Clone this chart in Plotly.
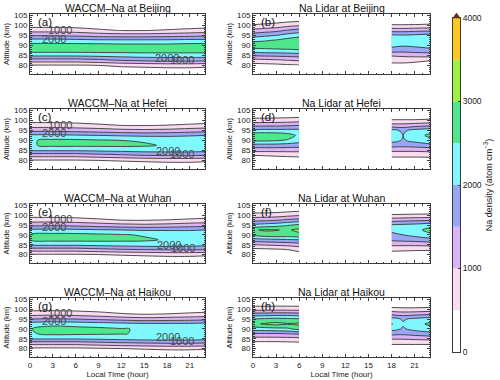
import numpy as np
import plotly.graph_objects as go

# contour levels of Na density (atom cm-3) and the fill of each band
levels = [0, 500, 1000, 1500, 2000, 2500, 3000, 3500, 4000]
band_colors = ['#ffffff', '#f9dcf0', '#dcb4f5', '#98a6f4', '#80f8ff',
               '#50e68c', '#a0f040', '#ffc81e']
over_color = '#6b2a0a'
cbar_ticks = [0, 1000, 2000, 3000, 4000]

stations = ['Beijing', 'Hefei', 'Wuhan', 'Haikou']
panel_tags = ['(a)', '(b)', '(c)', '(d)', '(e)', '(f)', '(g)', '(h)']

# ---- WACCM-Na: one altitude profile per local time ----
waccm_time = [0, 3, 6, 9, 12, 15, 18, 21, 23]
waccm_alt = [75, 77.5, 80, 82.5, 85, 87.5, 90, 92.5, 95, 97.5, 100, 102.5, 105]

waccm_beijing = [
    [0, 150, 450, 1250, 2100, 2750, 2700, 2200, 1450, 800, 300, 100, 0],
    [0, 150, 450, 1250, 2100, 2750, 2700, 2200, 1450, 800, 300, 100, 0],
    [0, 150, 450, 1250, 2100, 2750, 2700, 2150, 1400, 750, 280, 100, 0],
    [0, 180, 500, 1350, 2150, 2750, 2700, 2100, 1300, 600, 200, 80, 0],
    [0, 220, 600, 1500, 2200, 2750, 2650, 2100, 1250, 480, 150, 50, 0],
    [0, 250, 650, 1600, 2250, 2750, 2650, 2100, 1250, 480, 150, 50, 0],
    [0, 280, 700, 1650, 2250, 2750, 2650, 2100, 1300, 550, 180, 60, 0],
    [0, 280, 700, 1650, 2250, 2750, 2700, 2150, 1350, 650, 220, 80, 0],
    [0, 250, 650, 1600, 2250, 2750, 2700, 2150, 1400, 700, 250, 80, 0],
]
waccm_hefei = [
    [0, 120, 450, 1200, 2050, 2450, 2450, 2100, 1350, 750, 300, 100, 0],
    [0, 120, 450, 1200, 2050, 2600, 2600, 2100, 1350, 750, 300, 100, 0],
    [0, 120, 450, 1200, 2050, 2600, 2600, 2050, 1300, 700, 280, 100, 0],
    [0, 150, 500, 1300, 2100, 2600, 2550, 2000, 1250, 600, 220, 80, 0],
    [0, 180, 550, 1400, 2150, 2600, 2500, 1950, 1150, 500, 180, 60, 0],
    [0, 220, 600, 1500, 2200, 2560, 2450, 1900, 1100, 480, 150, 50, 0],
    [0, 250, 650, 1550, 2200, 2450, 2400, 1900, 1150, 520, 170, 60, 0],
    [0, 250, 650, 1550, 2200, 2450, 2400, 1950, 1250, 600, 200, 70, 0],
    [0, 220, 600, 1500, 2150, 2450, 2450, 2000, 1300, 650, 250, 80, 0],
]
waccm_wuhan = [
    [0, 120, 450, 1250, 2100, 2500, 2500, 2100, 1350, 750, 300, 100, 0],
    [0, 120, 450, 1250, 2100, 2650, 2650, 2150, 1400, 750, 300, 100, 0],
    [0, 120, 450, 1250, 2100, 2650, 2650, 2100, 1350, 700, 280, 100, 0],
    [0, 150, 500, 1350, 2150, 2650, 2600, 2050, 1250, 600, 220, 80, 0],
    [0, 180, 550, 1450, 2200, 2620, 2550, 2000, 1150, 500, 180, 60, 0],
    [0, 220, 600, 1500, 2250, 2580, 2450, 1950, 1100, 480, 150, 50, 0],
    [0, 250, 650, 1550, 2250, 2450, 2400, 1950, 1150, 520, 170, 60, 0],
    [0, 250, 650, 1550, 2200, 2450, 2400, 1950, 1250, 600, 200, 70, 0],
    [0, 220, 600, 1500, 2150, 2450, 2450, 2000, 1300, 650, 250, 80, 0],
]
waccm_haikou = [
    [0, 100, 400, 1150, 2050, 2450, 2480, 2250, 1500, 800, 350, 100, 0],
    [0, 100, 400, 1150, 2050, 2600, 2700, 2350, 1550, 850, 350, 100, 0],
    [0, 100, 400, 1150, 2050, 2580, 2650, 2300, 1500, 800, 330, 100, 0],
    [0, 120, 450, 1250, 2100, 2550, 2600, 2250, 1400, 700, 260, 80, 0],
    [0, 150, 500, 1350, 2150, 2520, 2530, 2150, 1300, 550, 200, 60, 0],
    [0, 180, 550, 1400, 2200, 2450, 2450, 2100, 1200, 480, 160, 50, 0],
    [0, 220, 600, 1450, 2200, 2450, 2450, 2100, 1250, 520, 170, 60, 0],
    [0, 220, 600, 1450, 2200, 2450, 2450, 2100, 1300, 600, 200, 70, 0],
    [0, 200, 550, 1400, 2150, 2450, 2450, 2150, 1350, 650, 250, 80, 0],
]

# ---- Na lidar: two night-time blocks ----
lidar_alt = [80, 82.5, 85, 87.5, 90, 92.5, 95, 97.5, 100, 102.5]
night1_time = [0, 1.5, 3, 4.5, 6]
night2_time = [18, 19.5, 21, 23]

lidar_beijing_1 = [
    [300, 800, 1550, 2300, 2800, 2380, 1800, 1150, 550, 200],
    [320, 850, 1600, 2330, 2800, 2450, 1900, 1250, 620, 230],
    [350, 900, 1620, 2370, 2820, 2550, 2000, 1350, 700, 270],
    [400, 980, 1650, 2400, 2840, 2700, 2200, 1550, 850, 330],
    [450, 1050, 1700, 2450, 2850, 2800, 2350, 1700, 950, 380],
]
lidar_beijing_2 = [
    [350, 650, 1050, 1750, 2150, 2300, 2100, 1300, 550, 200],
    [330, 680, 1100, 1700, 2050, 2200, 2050, 1300, 550, 200],
    [300, 620, 1150, 1750, 2100, 2250, 2100, 1350, 560, 200],
    [200, 520, 1200, 1800, 2250, 2350, 2200, 1400, 600, 200],
]
lidar_hefei_1 = [
    [200, 500, 1150, 1800, 2600, 2900, 2100, 1400, 700, 250],
    [200, 520, 1150, 1800, 2600, 2900, 2150, 1400, 700, 250],
    [220, 550, 1150, 1800, 2550, 2850, 2150, 1400, 720, 260],
    [250, 580, 1150, 1750, 2450, 2700, 2150, 1450, 750, 280],
    [280, 600, 1150, 1700, 2250, 2400, 2150, 1500, 800, 300],
]
lidar_hefei_2 = [
    [300, 600, 1100, 1700, 2200, 2300, 2150, 1200, 550, 200],
    [300, 600, 1100, 1650, 1950, 2000, 1900, 1200, 550, 200],
    [300, 600, 1100, 1700, 2150, 2300, 2150, 1300, 550, 200],
    [300, 620, 1150, 1800, 2400, 2600, 2300, 1400, 600, 200],
]
lidar_wuhan_1 = [
    [100, 350, 1000, 1800, 2600, 2950, 2100, 1350, 700, 250],
    [120, 380, 1050, 1850, 2800, 3050, 2200, 1400, 720, 260],
    [150, 420, 1100, 1900, 2850, 3020, 2300, 1450, 750, 280],
    [200, 500, 1150, 1950, 2800, 2950, 2450, 1600, 850, 330],
    [300, 650, 1250, 2000, 2900, 3100, 2600, 1700, 950, 400],
]
lidar_wuhan_2 = [
    [300, 600, 1100, 1600, 1900, 2100, 2050, 1300, 550, 200],
    [280, 580, 1100, 1650, 2000, 2200, 2100, 1350, 560, 200],
    [260, 560, 1100, 1700, 2150, 2350, 2150, 1400, 580, 200],
    [250, 550, 1150, 1800, 2400, 2650, 2300, 1450, 600, 200],
]
lidar_haikou_1 = [
    [100, 300, 800, 1450, 2250, 2900, 2500, 1700, 800, 300],
    [100, 300, 800, 1450, 2300, 3050, 2600, 1700, 800, 300],
    [100, 300, 800, 1450, 2350, 3150, 2650, 1750, 820, 300],
    [110, 320, 820, 1500, 2400, 3050, 2600, 1750, 820, 300],
    [120, 350, 850, 1550, 2700, 3100, 2550, 1700, 800, 300],
]
lidar_haikou_2 = [
    [250, 550, 1050, 1650, 2200, 2550, 2200, 1400, 650, 250],
    [250, 550, 1050, 1600, 1950, 2050, 1950, 1300, 600, 250],
    [250, 550, 1100, 1700, 2150, 2300, 2100, 1350, 600, 250],
    [250, 550, 1150, 1800, 2350, 2600, 2250, 1450, 650, 250],
]

waccm_data = [waccm_beijing, waccm_hefei, waccm_wuhan, waccm_haikou]
lidar_data = [(lidar_beijing_1, lidar_beijing_2), (lidar_hefei_1, lidar_hefei_2),
              (lidar_wuhan_1, lidar_wuhan_2), (lidar_haikou_1, lidar_haikou_2)]

# contour labels drawn on the WACCM panels (time, altitude, text)
waccm_labels = [
    [(4.0, 97.6, '1000'), (3.2, 93.4, '2000'), (18.0, 83.8, '2000'), (20.0, 82.5, '1000')],
    [(4.0, 97.6, '1000'), (3.1, 93.8, '2000'), (18.1, 84.6, '2000'), (20.0, 83.2, '1000')],
    [(4.0, 97.9, '1000'), (3.1, 93.8, '2000'), (18.3, 84.8, '2000'), (20.1, 83.3, '1000')],
    [(4.0, 98.0, '1000'), (3.1, 94.2, '2000'), (18.1, 85.7, '2000'), (20.0, 83.9, '1000')],
]

W, H = 500, 380
FONT = 'Liberation Sans, Arial, sans-serif'
LINE = '#3a3a3a'


def px(x):
    return x / W


def py(y):
    return 1 - y / H


col_x = [(30, 205), (253, 430)]
row_y = [(14, 74), (109, 169), (204, 263), (298, 357)]

# colour of each band for the contour fills: band centres map to k/8
cscale = [[k / 8, c] for k, c in enumerate(band_colors + [over_color])]
contour_style = dict(
    autocontour=False,
    contours=dict(start=500, end=4000, size=500, coloring='fill', showlines=True),
    colorscale=cscale,
    line=dict(color=LINE, width=0.9, smoothing=1),
    showscale=False,
    hoverinfo='skip',
)

fig = go.Figure()
annotations = []

for r, st in enumerate(stations):
    for c in range(2):
        k = r * 2 + c + 1
        sfx = '' if k == 1 else str(k)
        xa, ya = 'x' + sfx, 'y' + sfx
        x0, x1 = col_x[c]
        y0, y1 = row_y[r]

        if c == 0:
            fig.add_trace(go.Contour(x=waccm_time, y=waccm_alt,
                                     z=np.array(waccm_data[r]).T,
                                     xaxis=xa, yaxis=ya, **contour_style))
            for t, a, txt in waccm_labels[r]:
                annotations.append(dict(x=t, y=a, xref=xa, yref=ya, text=txt,
                                        showarrow=False, xanchor='center', yanchor='middle',
                                        font=dict(family=FONT, size=11, color='#4a4a4a')))
            title = 'WACCM\u2013Na at ' + st
        else:
            n1, n2 = lidar_data[r]
            fig.add_trace(go.Contour(x=night1_time, y=lidar_alt, z=np.array(n1).T,
                                     xaxis=xa, yaxis=ya, **contour_style))
            fig.add_trace(go.Contour(x=night2_time, y=lidar_alt, z=np.array(n2).T,
                                     xaxis=xa, yaxis=ya, **contour_style))
            title = 'Na Lidar at ' + st

        bottom = (r == 3)
        xaxis = dict(
            domain=[px(x0), px(x1)], anchor=ya, range=[0, 23], automargin=False,
            tick0=0, dtick=3, ticks='inside', ticklen=3, tickcolor=LINE,
            minor=dict(dtick=1, ticks='inside', ticklen=1.5, tickcolor=LINE),
            showline=True, linecolor=LINE, linewidth=1, mirror='allticks',
            showgrid=False, zeroline=False, showticklabels=bottom,
            tickfont=dict(family=FONT, size=8, color='#222'),
        )
        if bottom:
            xaxis['title'] = dict(text='Local Time (hour)',
                                  font=dict(family=FONT, size=8, color='#222'), standoff=0)
        fig.layout['xaxis' + sfx] = xaxis
        fig.layout['yaxis' + sfx] = dict(
            domain=[py(y1), py(y0)], anchor=xa, range=[75.7, 105.7], automargin=False,
            tick0=80, dtick=5, ticks='inside', ticklen=3, tickcolor=LINE,
            minor=dict(dtick=1, ticks='inside', ticklen=1.5, tickcolor=LINE),
            showline=True, linecolor=LINE, linewidth=1, mirror='allticks',
            showgrid=False, zeroline=False,
            tickfont=dict(family=FONT, size=8, color='#222'),
            title=dict(text='Altitude (km)', font=dict(family=FONT, size=7.5, color='#222'),
                       standoff=3),
        )
        annotations.append(dict(x=px((x0 + x1) / 2), y=py(y0 - 6.5), xref='paper', yref='paper',
                                text=title, showarrow=False, xanchor='center', yanchor='middle',
                                font=dict(family=FONT, size=10.5, color='#111')))
        annotations.append(dict(x=px(x0 + 6), y=py(y0 + 7.5), xref='paper', yref='paper',
                                text=panel_tags[k - 1], showarrow=False,
                                xanchor='left', yanchor='middle',
                                font=dict(family=FONT, size=11.5, color='#111')))

# colour bar drawn as a stacked bar of the bands
cb_left, cb_right, cb_top, cb_bot = 453, 460, 18, 352
fig.add_trace(go.Bar(x=[0] * 8, y=np.diff(levels), base=levels[:-1], width=1,
                     marker=dict(color=band_colors, line=dict(width=0)),
                     xaxis='x9', yaxis='y9', hoverinfo='skip', showlegend=False))
fig.layout['xaxis9'] = dict(domain=[px(cb_left), px(cb_right)], anchor='y9', range=[-0.5, 0.5],
                            automargin=False,
                            showticklabels=False, ticks='', showgrid=False, zeroline=False,
                            showline=True, linecolor=LINE, mirror=True)
fig.layout['yaxis9'] = dict(domain=[py(cb_bot), py(cb_top)], anchor='x9', side='right',
                            range=[levels[0], levels[-1]], tickvals=cbar_ticks,
                            automargin=False,
                            ticks='inside', ticklen=2, tickcolor=LINE,
                            showgrid=False, zeroline=False,
                            showline=True, linecolor=LINE, mirror=True,
                            tickfont=dict(family=FONT, size=8.5, color='#222'),
                            title=dict(text='Na density (atom cm<sup>\u22123</sup>)',
                                       font=dict(family=FONT, size=9, color='#222'),
                                       standoff=4))

# out-of-range triangle on top of the colour bar
tri = (f'M {px(cb_left)} {py(cb_top)} L {px(cb_right)} {py(cb_top)} '
       f'L {px((cb_left + cb_right) / 2)} {py(cb_top - 5)} Z')

fig.update_layout(
    width=W, height=H,
    margin=dict(l=0, r=0, t=0, b=0),
    paper_bgcolor='white', plot_bgcolor='white',
    showlegend=False,
    annotations=annotations,
    shapes=[dict(type='path', path=tri, xref='paper', yref='paper',
                 fillcolor=over_color, line=dict(color=LINE, width=0.6))],
)

# the page body has a default 8px margin; drop it so the figure sits at the corner
fig.write_html("out.html", config={'displayModeBar': False},
               post_script="document.body.style.margin='0';")
